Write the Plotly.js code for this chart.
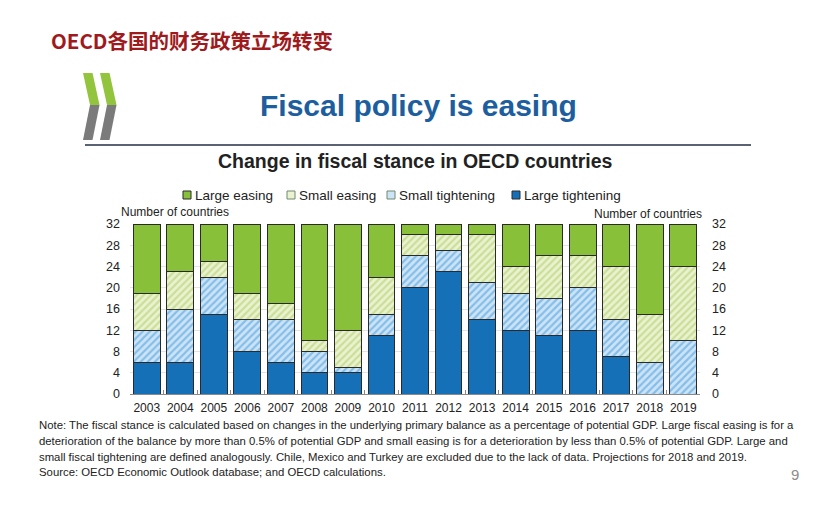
<!DOCTYPE html>
<html>
<head>
<meta charset="utf-8">
<script src="https://cdn.plot.ly/plotly-3.0.1.min.js"></script>
<style>
html,body{margin:0;padding:0;background:#ffffff;}
#chart{width:831px;height:511px;}
</style>
</head>
<body>
<div id="chart"></div>
<script>
// ---- data ----
var years = ['2003','2004','2005','2006','2007','2008','2009','2010','2011','2012','2013','2014','2015','2016','2017','2018','2019'];
var largeTightening = [6,6,15,8,6,4,4,11,20,23,14,12,11,12,7,0,0];
var smallTightening = [6,10,7,6,8,4,1,4,6,4,7,7,7,8,7,6,10];
var smallEasing     = [7,7,3,5,3,2,7,7,4,3,9,5,8,6,10,9,14];
var largeEasing     = [13,9,7,13,15,22,20,10,2,2,2,8,6,6,8,17,8];
var seriesNames = ['Large tightening','Small tightening','Small easing','Large easing'];
var yTicks = [0,4,8,12,16,20,24,28,32];

// ---- geometry helpers (pixel -> paper) ----
var W = 831, H = 511;
var L = 130, R = 700, T = 224, B = 394;
function px(x){ return (x - L) / (R - L); }
function py(y){ return (B - y) / (B - T); }

var SANS = '"Liberation Sans", Arial, sans-serif';
var lineCol = '#2a2a2a';

var styles = [
  {color: '#1670b8'},
  {color: '#cce4f6', fg: '#3f98dc'},
  {color: '#eaf2cf', fg: '#a9cc62'},
  {color: '#88c03a'}
];
var seriesValues = [largeTightening, smallTightening, smallEasing, largeEasing];

var traces = seriesValues.map(function(vals, i){
  var m = {color: styles[i].color, line: {color: lineCol, width: 1}};
  if (styles[i].fg) {
    m.pattern = {shape: '/', fgcolor: styles[i].fg, bgcolor: styles[i].color, size: 5, solidity: 0.45, fillmode: 'overlay'};
  }
  return {name: seriesNames[i], x: years, y: vals, type: 'bar', marker: m, showlegend: false};
});
traces.push({x: [years[0]], y: [0], yaxis: 'y2', type: 'scatter', mode: 'markers',
   marker: {opacity: 0}, showlegend: false, hoverinfo: 'skip'});

function chevron(x0, green, gray){
  var top = 73, mid = 105, bot = 140, w = 9.5, d = 7;
  var g = 'M' + px(x0) + ',' + py(top) + ' L' + px(x0 + w) + ',' + py(top) +
          ' L' + px(x0 + w + d) + ',' + py(mid) + ' L' + px(x0 + d) + ',' + py(mid) + ' Z';
  var s = 'M' + px(x0 + d) + ',' + py(mid) + ' L' + px(x0 + w + d) + ',' + py(mid) +
          ' L' + px(x0 + w) + ',' + py(bot) + ' L' + px(x0) + ',' + py(bot) + ' Z';
  return [
    {type: 'path', xref: 'paper', yref: 'paper', path: g, fillcolor: green, line: {width: 0}},
    {type: 'path', xref: 'paper', yref: 'paper', path: s, fillcolor: gray, line: {width: 0}}
  ];
}

// legend (drawn as shapes + annotations, in reference order)
var legendOrder = [3, 2, 1, 0];
var legendSq = [183, 287, 387, 512];
var legendY = 195;
var legendShapes = [], legendAnn = [];
legendOrder.forEach(function(si, k){
  var x0 = legendSq[k];
  legendShapes.push({type: 'rect', xref: 'paper', yref: 'paper',
    x0: px(x0), x1: px(x0 + 8), y0: py(legendY + 4), y1: py(legendY - 4),
    fillcolor: styles[si].color,
    line: {color: styles[si].fg ? '#6f8a6f' : lineCol, width: 1}});
  legendAnn.push({text: seriesNames[si], xref: 'paper', yref: 'paper', x: px(x0 + 10), y: py(legendY),
    xanchor: 'left', yanchor: 'middle', showarrow: false,
    font: {family: SANS, size: 13.5, color: '#222222'}});
});

var shapes = [].concat(
  chevron(83, '#93c43d', '#7b7b7b'),
  chevron(100, '#93c43d', '#7b7b7b'),
  [{type: 'line', xref: 'paper', yref: 'paper', x0: px(85), x1: px(751), y0: py(145), y1: py(145),
    line: {color: '#5a6274', width: 2}}],
  legendShapes
);

var noteLines = [
  'Note: The fiscal stance is calculated based on changes in the underlying primary balance as a percentage of potential GDP. Large fiscal easing is for a',
  'deterioration of the balance by more than 0.5% of potential GDP and small easing is for a deterioration by less than 0.5% of potential GDP. Large and',
  'small fiscal tightening are defined analogously. Chile, Mexico and Turkey are excluded due to the lack of data. Projections for 2018 and 2019.',
  'Source: OECD Economic Outlook database; and OECD calculations.'
];
var noteY = [425, 441, 457, 472];

var annotations = [
  {text: '<b>OECD各国的财务政策立场转变</b>', xref: 'paper', yref: 'paper', x: px(49), y: py(40),
   xanchor: 'left', yanchor: 'middle', showarrow: false,
   font: {family: '"Noto Sans CJK SC", sans-serif', size: 20.5, color: '#9e1a1c'}},
  {text: '<b>Fiscal policy is easing</b>', xref: 'paper', yref: 'paper', x: px(418), y: py(105),
   xanchor: 'center', yanchor: 'middle', showarrow: false,
   font: {family: SANS, size: 30, color: '#1d5e9e'}},
  {text: '<b>Change in fiscal stance in OECD countries</b>', xref: 'paper', yref: 'paper', x: px(415), y: py(161),
   xanchor: 'center', yanchor: 'middle', showarrow: false,
   font: {family: SANS, size: 19.5, color: '#222222'}},
  {text: 'Number of countries', xref: 'paper', yref: 'paper', x: px(119), y: py(212),
   xanchor: 'left', yanchor: 'middle', showarrow: false,
   font: {family: SANS, size: 12, color: '#222222'}},
  {text: 'Number of countries', xref: 'paper', yref: 'paper', x: px(704), y: py(214),
   xanchor: 'right', yanchor: 'middle', showarrow: false,
   font: {family: SANS, size: 12, color: '#222222'}},
  {text: '9', xref: 'paper', yref: 'paper', x: px(795), y: py(474),
   xanchor: 'center', yanchor: 'middle', showarrow: false,
   font: {family: SANS, size: 15, color: '#8c8c8c'}}
].concat(noteLines.map(function(t, i){
  return {text: t, xref: 'paper', yref: 'paper', x: px(37), y: py(noteY[i]),
    xanchor: 'left', yanchor: 'middle', align: 'left', showarrow: false,
    font: {family: SANS, size: 11.35, color: '#222222'}};
})).concat(legendAnn);

var layout = {
  width: W, height: H,
  margin: {l: L, r: W - R, t: T, b: H - B, pad: 0},
  paper_bgcolor: '#ffffff', plot_bgcolor: '#ffffff',
  barmode: 'stack', bargap: 0.2,
  font: {family: SANS, size: 12, color: '#222222'},
  showlegend: false,
  xaxis: {type: 'category', range: [-0.5, 16.5], showgrid: false, zeroline: false,
          showline: true, linecolor: '#8a8a8a', linewidth: 1,
          ticks: 'inside', tickson: 'boundaries', ticklen: 4, tickcolor: '#8a8a8a',
          tickangle: 0, tickfont: {family: SANS, size: 12, color: '#222222'}, ticklabelstandoff: 3,
          fixedrange: true},
  yaxis: {range: [0, 32], tickvals: yTicks, showgrid: true, gridcolor: '#e4e4e4', gridwidth: 1,
          zeroline: false, showline: false, ticks: '', ticklabelstandoff: 9,
          tickfont: {family: SANS, size: 12.5, color: '#222222'}, fixedrange: true},
  yaxis2: {range: [0, 32], tickvals: yTicks, overlaying: 'y', side: 'right', showgrid: false,
           zeroline: false, showline: false, ticks: '', ticklabelstandoff: 11,
           tickfont: {family: SANS, size: 12.5, color: '#222222'}, fixedrange: true},
  shapes: shapes,
  annotations: annotations
};

Plotly.newPlot('chart', traces, layout, {displayModeBar: false, staticPlot: true});
</script>
</body>
</html>
